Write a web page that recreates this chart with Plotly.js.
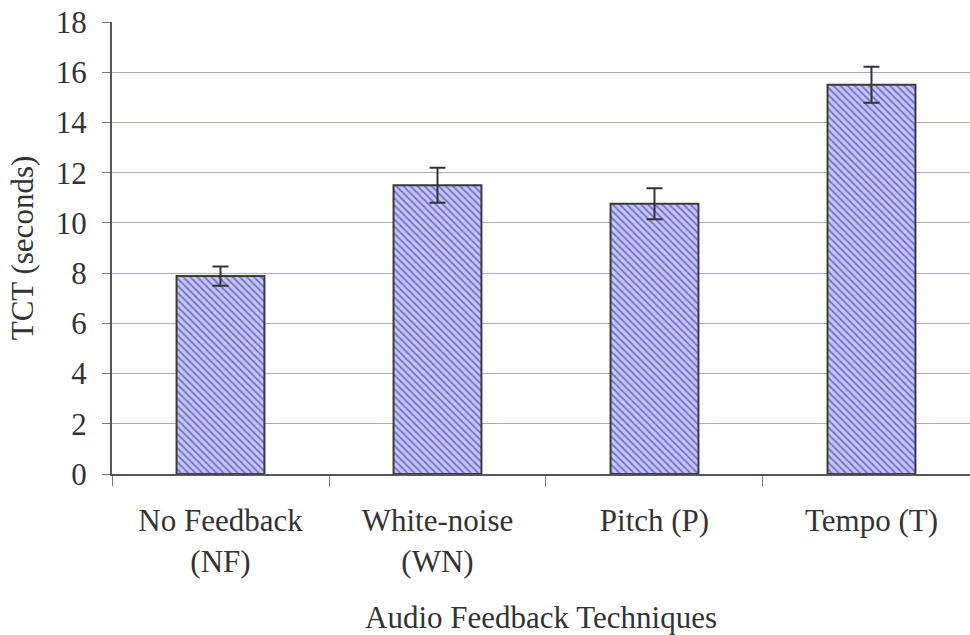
<!DOCTYPE html>
<html>
<head>
<meta charset="utf-8">
<script src="https://cdn.plot.ly/plotly-3.0.1.min.js"></script>
<style>html,body{margin:0;padding:0;background:#fff;overflow:hidden;}</style>
</head>
<body>
<div id="chart" style="width:970px;height:635px;"></div>
<script>
const categories = ["No Feedback<br>(NF)", "White-noise<br>(WN)", "Pitch (P)", "Tempo (T)"];
const tctValues = [7.88, 11.5, 10.76, 15.5];
const tctErrors = [0.38, 0.7, 0.62, 0.72];
const yTickValues = [0, 2, 4, 6, 8, 10, 12, 14, 16, 18];

const FONT = "Liberation Serif";
const TXT = "#333333";
const FS = 31;

const trace = {
  type: "bar",
  x: categories,
  y: tctValues,
  width: 0.405,
  marker: {
    color: "#c8c8f6",
    line: {color: "#3a3a3a", width: 2},
    pattern: {shape: "\\", fgcolor: "#7474d6", bgcolor: "#c8c8f6", size: 5, solidity: 0.4}
  },
  error_y: {type: "data", array: tctErrors, visible: true, color: "#333333", thickness: 2, width: 8},
  hoverinfo: "skip"
};

const layout = {
  width: 970,
  height: 635,
  margin: {l: 112, r: 0, t: 22, b: 161},
  paper_bgcolor: "#ffffff",
  plot_bgcolor: "#ffffff",
  showlegend: false,
  font: {family: FONT, size: FS, color: TXT},
  xaxis: {
    range: [-0.5, 3.454],
    showline: true, linecolor: "#555560", linewidth: 2,
    ticks: "outside", ticklen: 10, tickcolor: "#777780", tickwidth: 1,
    tickson: "boundaries",
    showgrid: false,
    tickfont: {family: FONT, size: FS, color: TXT},
    ticklabelstandoff: 18,
    title: {text: "Audio Feedback Techniques", font: {family: FONT, size: FS, color: TXT}, standoff: 32}
  },
  yaxis: {
    range: [0, 18],
    tickvals: yTickValues,
    showline: true, linecolor: "#555560", linewidth: 2,
    ticks: "outside", ticklen: 8, tickcolor: "#777780", tickwidth: 1,
    showgrid: true, gridcolor: "#a9a9c6", gridwidth: 1,
    zeroline: false,
    tickfont: {family: FONT, size: FS, color: TXT},
    ticklabelstandoff: 9,
    title: {text: "TCT (seconds)", font: {family: FONT, size: FS, color: TXT}, standoff: 13}
  }
};

Plotly.newPlot("chart", [trace], layout, {displayModeBar: false, staticPlot: true});
</script>
</body>
</html>
